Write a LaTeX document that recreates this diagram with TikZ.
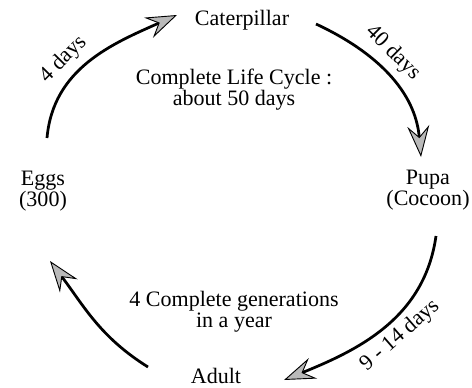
\documentclass[tikz,border=0pt]{standalone}
\usepackage{fontspec}
\setmainfont{Liberation Serif}
\usetikzlibrary{arrows.meta}
\tikzset{
  stage/.style={font=\fontsize{12}{11.5}\selectfont, align=center, inner sep=2pt},
  cycle/.style={line width=1.5pt, -{Stealth[length=17pt,width=12pt,inset=6pt,fill=gray!55,line width=0.5pt]}},
  days/.style={font=\fontsize{12}{11.5}\selectfont, sloped, inner sep=4pt}
}
\begin{document}
\begin{tikzpicture}[x=0.545pt,y=0.545pt]
  \useasboundingbox (0,0) rectangle (472,387);
  % stages of the cycle
  \node[stage] (cat) at (242,367) {Caterpillar};
  \node[stage] (pupa) at (428,197) {Pupa\\(Cocoon)};
  \node[stage] (adult) at (216,11) {Adult};
  \node[stage] (eggs) at (43,196) {Eggs\\(300)};
  % notes in the middle
  \node[stage] (life) at (234,297) {Complete Life Cycle :\\about 50 days};
  \node[stage] (gen) at (234,75) {4 Complete generations\\in a year};
  % arrows between the stages
  \draw[cycle] ([shift={(4,53)}]eggs.center) to[out=85,in=204]
    node[days, above, pos=0.4] (d1) {4 days} ([shift={(-65,5)}]cat.center);
  \draw[cycle] ([shift={(74,-4)}]cat.center) to[out=-25,in=95]
    node[days, above, pos=0.42] (d2) {40 days} ([shift={(-7,33)}]pupa.center);
  \draw[cycle] ([shift={(8,-46)}]pupa.center) to[out=-98,in=22]
    node[days, below, pos=0.47, inner sep=3pt] (d3) {9 - 14 days} ([shift={(68,-4)}]adult.center);
  \draw[cycle] ([shift={(-68,9)}]adult.center) to[out=148,in=-53]
    ([shift={(7,-70)}]eggs.center);
\end{tikzpicture}
\end{document}
